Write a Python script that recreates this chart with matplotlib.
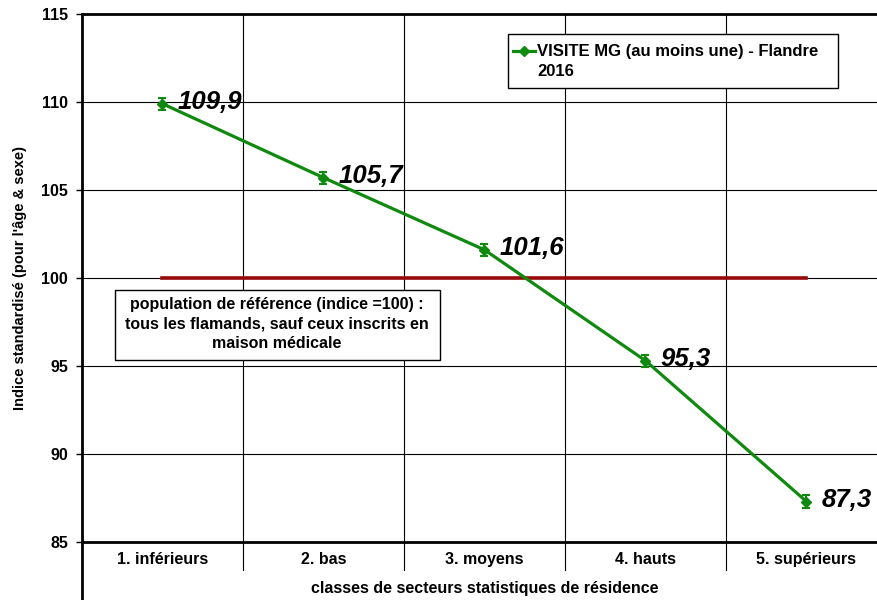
import matplotlib
matplotlib.use("Agg")
import matplotlib.pyplot as plt
import matplotlib.transforms as mtransforms
from matplotlib.lines import Line2D
from matplotlib.patches import Rectangle

plt.rcParams['font.family'] = ['Liberation Sans', 'DejaVu Sans']

# data
categories = ["1. inférieurs", "2. bas", "3. moyens", "4. hauts", "5. supérieurs"]
values = [109.9, 105.7, 101.6, 95.3, 87.3]
errors = [0.35, 0.35, 0.35, 0.35, 0.35]
value_labels = ["109,9", "105,7", "101,6", "95,3", "87,3"]
reference = 100
yticks = [85, 90, 95, 100, 105, 110, 115]
series_name = "VISITE MG (au moins une) - Flandre\n2016"
ref_note = ("population de référence (indice =100) :\n"
            "tous les flamands, sauf ceux inscrits en\nmaison médicale")

green = "#0f8a0f"
darkred = "#960a0a"

W, H = 878, 600
fig = plt.figure(figsize=(W / 100, H / 100), dpi=100)
ax = fig.add_axes([82 / W, 58 / H, 805 / W, 528 / H])


def fx(px):
    return px / W


def fy(py):
    return 1 - py / H


x = list(range(1, len(categories) + 1))

# horizontal gridlines
for yv in yticks[1:-1]:
    ax.axhline(yv, color="black", lw=0.8, zorder=1)

# category separators (extend below the axis, Excel style)
trans = mtransforms.blended_transform_factory(ax.transData, ax.transAxes)
for i in range(len(categories) - 1):
    xb = x[i] + 0.5
    ax.plot([xb, xb], [1, -0.053], transform=trans, color="black", lw=0.8,
            clip_on=False, zorder=1)
ax.plot([0.5, 0.5], [0, -0.12], transform=trans, color="black", lw=2,
        clip_on=False)

# reference line
ax.plot([x[0], x[-1]], [reference, reference], color=darkred, lw=2.6, zorder=2)

# main series
ax.errorbar(x, values, yerr=errors, color=green, lw=2.3, marker="D", ms=5,
            capsize=3, elinewidth=1.5, capthick=1.5, zorder=3)

for xi, v, lab in zip(x, values, value_labels):
    ax.annotate(lab, (xi, v), xytext=(11, 1), textcoords="offset points",
                ha="left", va="center", fontsize=18.5, fontweight="bold",
                fontstyle="italic", zorder=4)

ax.set_xlim(0.5, len(categories) + 0.5)
ax.set_ylim(yticks[0], yticks[-1])
ax.set_yticks(yticks)
ax.set_yticklabels([str(t) for t in yticks], fontsize=11.5, fontweight="bold")
ax.set_xticks(x)
ax.set_xticklabels(categories, fontsize=11.5, fontweight="bold")
ax.tick_params(axis="x", length=0, pad=7)
ax.tick_params(axis="y", direction="out", length=4, width=1, pad=6)

for side in ["left", "bottom", "top"]:
    ax.spines[side].set_linewidth(2)
ax.spines["right"].set_visible(False)

ax.set_ylabel("Indice standardisé (pour l'âge & sexe)", fontsize=10.5,
              fontweight="bold", labelpad=10)
ax.set_xlabel("classes de secteurs statistiques de résidence", fontsize=11.5,
              fontweight="bold", labelpad=10)

# legend box (drawn by hand so the marker sits on the first line)
fig.add_artist(Rectangle((fx(508), fy(88)), fx(838) - fx(508), fy(34) - fy(88),
                         transform=fig.transFigure, fc="white", ec="black",
                         lw=1, zorder=6))
fig.add_artist(Line2D([fx(513), fx(535)], [fy(51), fy(51)], color=green,
                      lw=2.3, transform=fig.transFigure, zorder=7))
fig.add_artist(Line2D([fx(524)], [fy(51)], color=green, marker="D", ms=5,
                      ls="none", transform=fig.transFigure, zorder=7))
fig.text(fx(537), fy(61.5), series_name, ha="left", va="center", fontsize=12,
         fontweight="bold", linespacing=1.45, zorder=8)

# reference note box
fig.add_artist(Rectangle((fx(115), fy(360)), fx(440) - fx(115), fy(290) - fy(360),
                         transform=fig.transFigure, fc="white", ec="black",
                         lw=1, zorder=6))
fig.text(fx(277), fy(324), ref_note, ha="center", va="center", fontsize=11.5,
         fontweight="bold", linespacing=1.35, zorder=8)

fig.savefig("out.png", dpi=100)
